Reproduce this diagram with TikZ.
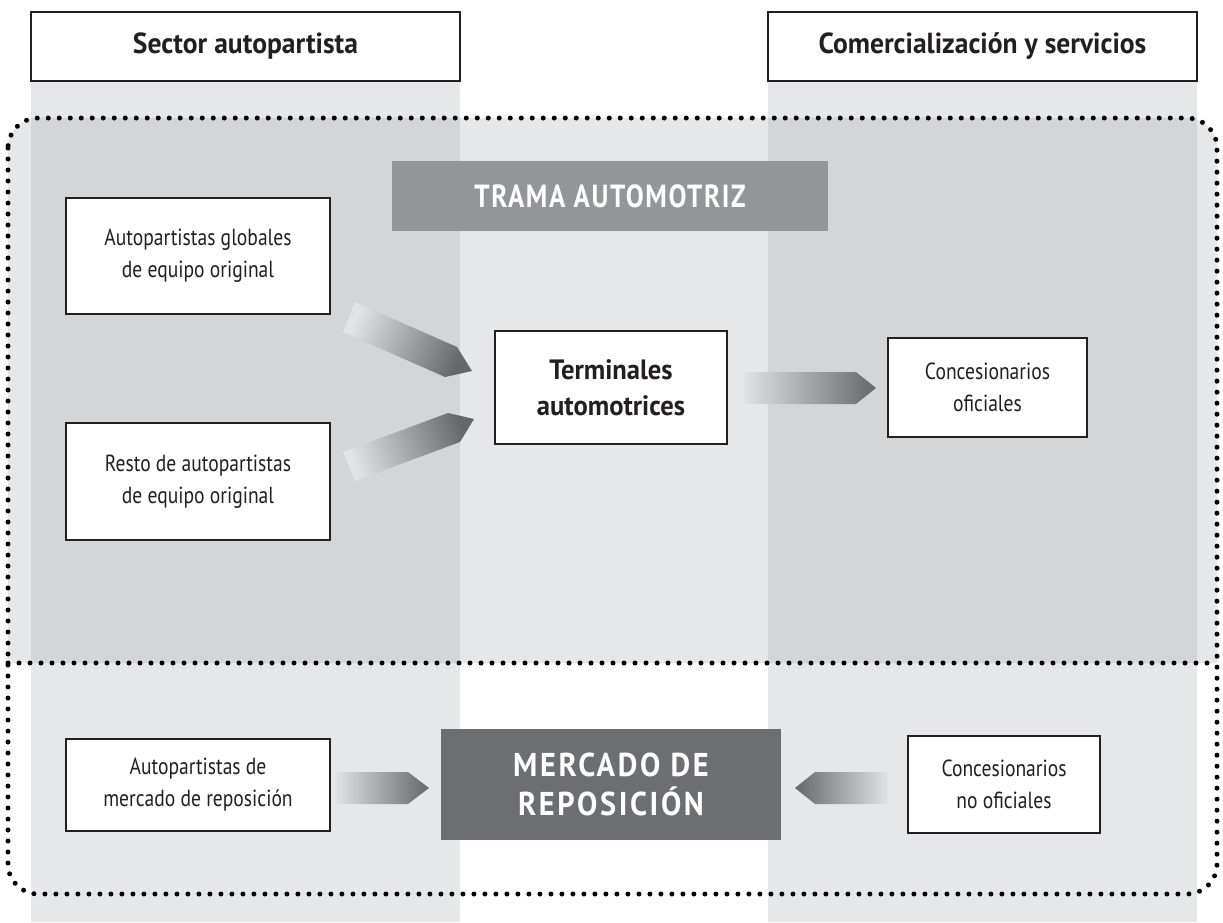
\documentclass[tikz,border=0pt]{standalone}
\usepackage{fontspec}
\setmainfont{PT Sans}[FakeStretch=0.84]
\newfontfamily\bfam{PT Sans}[FakeStretch=0.95]
\newfontfamily\capsfont{PT Sans}[FakeStretch=0.84,LetterSpace=5]
\newfontfamily\mcapsfont{PT Sans}[FakeStretch=0.92,LetterSpace=8]
\definecolor{colL}{HTML}{E6E7E8}
\definecolor{colD}{HTML}{D4D5D6}
\definecolor{tramaC}{HTML}{939598}
\definecolor{mercC}{HTML}{6D6E71}
\definecolor{inkC}{HTML}{231F20}
\definecolor{arrD}{HTML}{66676A}
\definecolor{arrL}{HTML}{E2E3E4}
\tikzset{
  wbox/.style={draw=inkC,line width=1.2pt,fill=white,inner sep=0pt,align=center,text=inkC},
  hdr/.style={wbox,minimum width=429pt,minimum height=69pt,font=\fontsize{29}{32}\bfam\bfseries},
  txt/.style={wbox,font=\fontsize{23.3}{32}\selectfont},
  dots/.style={line width=5pt,line cap=round,dash pattern=on 0pt off 11pt,draw=black},
  barrow/.style={left color=arrL,right color=arrD},
}
\begin{document}
\begin{tikzpicture}[x=1pt,y=-1pt]
\useasboundingbox (0,0) rectangle (1223,922);
\fill[white] (0,0) rectangle (1223,922);
% trama background
\fill[colL] (8,663) -- (8,148) arc(180:270:30) -- (1187,118) arc(270:360:30) -- (1217,663) -- cycle;
% columns
\fill[colL] (31,81) rectangle (460,922);
\fill[colL] (768,81) rectangle (1197,922);
\fill[colD] (31,118) rectangle (460,663);
\fill[colD] (768,118) rectangle (1197,663);
% dotted outlines
\draw[dots,rounded corners=30pt] (8,118) rectangle (1217,894);
\draw[dots] (8,663) -- (1217,663);
% headers
\node[hdr] (h1) at (245.5,46.5) {Sector autopartista};
\node[hdr] (h2) at (982.5,46.5) {Comercialización y servicios};
% trama title
\node[fill=tramaC,minimum width=436pt,minimum height=70pt,inner sep=0pt,text=white,font=\fontsize{32}{34}\capsfont\bfseries] (trama) at (610,196) {TRAMA AUTOMOTRIZ};
% boxes
\node[txt,minimum width=264pt,minimum height=116pt] (glob) at (198,256) {Autopartistas globales\\de equipo original};
\node[txt,minimum width=264pt,minimum height=117pt] (resto) at (198,481.5) {Resto de autopartistas\\de equipo original};
\node[wbox,minimum width=232pt,minimum height=113pt,font=\fontsize{28}{36}\bfam\bfseries] (term) at (611,387.5) {Terminales\\automotrices};
\node[txt,minimum width=199pt,minimum height=99pt] (conc) at (987.5,387.5) {Concesionarios\\oficiales};
\node[txt,minimum width=264pt,minimum height=92pt] (amr) at (198,785) {Autopartistas de\\mercado de reposición};
\node[txt,minimum width=192pt,minimum height=97pt] (cno) at (1004,784.5) {Concesionarios\\no oficiales};
\node[fill=mercC,minimum width=340pt,minimum height=111pt,inner sep=0pt,align=center,text=white,font=\fontsize{33}{39}\mcapsfont\bfseries] (merc) at (611,784.5) {MERCADO DE\\REPOSICIÓN};
% block arrows
\shade[left color=arrL,right color=arrD,shading angle=66] (355,302) -- (457,347) -- (472,371) -- (445,377) -- (343,332) -- cycle;
\shade[left color=arrL,right color=arrD,shading angle=110] (343,452) -- (448,413) -- (474,419) -- (460,442) -- (355,481) -- cycle;
\shade[barrow] (743,372) -- (856,372) -- (876,388) -- (856,404) -- (743,404) -- cycle;
\shade[barrow] (335,772) -- (408,772) -- (429,788) -- (408,804) -- (335,804) -- cycle;
\shade[left color=arrD,right color=arrL] (888,772) -- (815,772) -- (795,788) -- (815,804) -- (888,804) -- cycle;
\end{tikzpicture}
\end{document}
